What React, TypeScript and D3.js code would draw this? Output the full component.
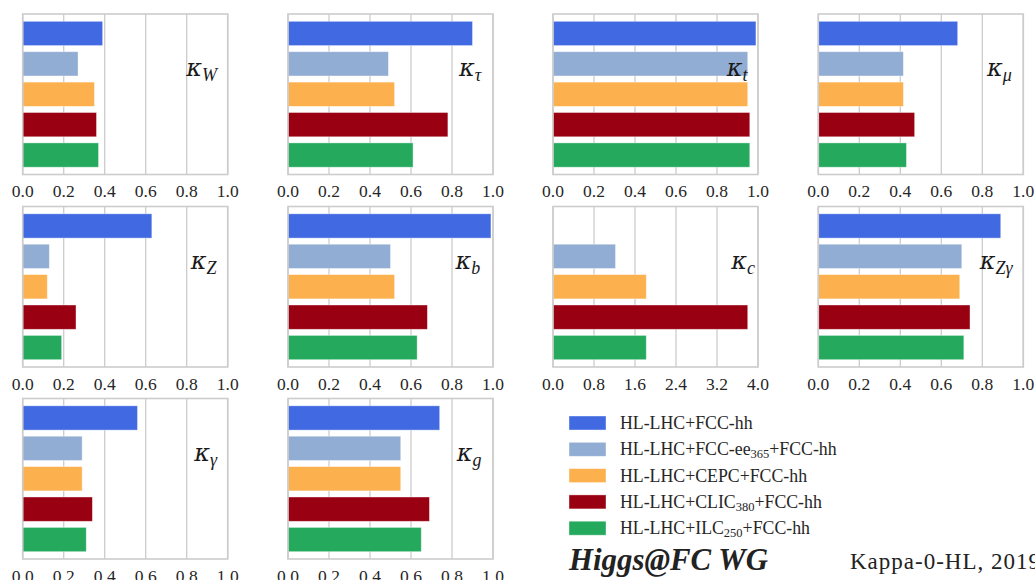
import React from "react";
import * as d3 from "d3";

// ---- data ----
const couplings = ["W", "τ", "t", "μ", "Z", "b", "c", "Zγ", "γ", "g"];
const scenarioNames = [
  ["HL-LHC+FCC-hh", "", ""],
  ["HL-LHC+FCC-ee", "365", "+FCC-hh"],
  ["HL-LHC+CEPC+FCC-hh", "", ""],
  ["HL-LHC+CLIC", "380", "+FCC-hh"],
  ["HL-LHC+ILC", "250", "+FCC-hh"],
];
const hlFcchh = [0.39, 0.9, 0.99, 0.68, 0.63, 0.99, null, 0.89, 0.56, 0.74];
const fccee365 = [0.27, 0.49, 0.95, 0.415, 0.13, 0.5, 1.22, 0.7, 0.29, 0.55];
const cepc = [0.35, 0.52, 0.95, 0.415, 0.12, 0.52, 1.82, 0.69, 0.29, 0.55];
const clic380 = [0.36, 0.78, 0.96, 0.47, 0.26, 0.68, 3.8, 0.74, 0.34, 0.69];
const ilc250 = [0.37, 0.61, 0.96, 0.43, 0.19, 0.63, 1.82, 0.71, 0.31, 0.65];
const xMax = [1, 1, 1, 1, 1, 1, 4, 1, 1, 1];
const ticksUnit = [0, 0.2, 0.4, 0.6, 0.8, 1.0];
const ticksC = [0, 0.8, 1.6, 2.4, 3.2, 4.0];

const seriesList = [hlFcchh, fccee365, cepc, clic380, ilc250];
const colors = ["#4169E1", "#92ADD3", "#FDB14E", "#990011", "#24A95D"];
const labelFrac = [0.873, 0.888, 0.898, 0.883, 0.883, 0.878, 0.927, 0.868, 0.893, 0.883];

// ---- layout ----
const W = 1035;
const H = 580;
const colX = [22.7, 288, 553, 818.3];
const rowY = [14, 206.5, 398.5];
const pw = 205;
const ph = 160.5;
const serif = "'Liberation Serif', 'Times New Roman', Times, serif";
const mathSerif = "'DejaVu Serif', serif";
const txt = "#262626";
const gridC = "#cccccc";

function Panel({ idx }: { idx: number }) {
  const col = idx % 4;
  const row = Math.floor(idx / 4);
  const x0 = colX[col];
  const y0 = rowY[row];
  const x = d3.scaleLinear().domain([0, xMax[idx]]).range([x0, x0 + pw]);
  const y = d3.scaleLinear().domain([-0.64, 4.64]).range([y0, y0 + ph]);
  const ticks = xMax[idx] === 4 ? ticksC : ticksUnit;
  const fmt = d3.format(".1f");
  const name = couplings[idx];
  return (
    <g>
      {ticks.map((t, i) => (
        <line key={"g" + i} x1={x(t)} x2={x(t)} y1={y0} y2={y0 + ph} stroke={gridC} strokeWidth={1.3} />
      ))}
      {seriesList.map((s, i) => {
        const v = s[idx];
        if (v == null) return null;
        return (
          <rect
            key={"b" + i}
            x={x(0)}
            y={y(i - 0.4)}
            width={x(v) - x(0)}
            height={y(i + 0.4) - y(i - 0.4)}
            fill={colors[i]}
            stroke="#ffffff"
            strokeOpacity={0.5}
            strokeWidth={0.8}
          />
        );
      })}
      <rect x={x0} y={y0} width={pw} height={ph} fill="none" stroke={gridC} strokeWidth={1.6} />
      {ticks.map((t, i) => (
        <text key={"t" + i} x={x(t)} y={y0 + ph + 22.5} textAnchor="middle" fontFamily={serif} fontSize={17.5} fill={txt}>
          {fmt(t)}
        </text>
      ))}
      <text x={x0 + labelFrac[idx] * pw} y={y0 + 62} textAnchor="middle" fontStyle="italic" fill="#1a1a1a">
        <tspan fontFamily={mathSerif} fontSize={24}>κ</tspan>
        <tspan fontFamily={serif} fontSize={18} dy={5}>{name}</tspan>
      </text>
    </g>
  );
}

export default function App() {
  return (
    <svg width={W} height={H} style={{ position: "absolute", left: 0, top: 0, background: "#fff" }}>
      <rect x={0} y={0} width={W} height={H} fill="#fff" />
      {couplings.map((_, i) => (
        <Panel key={i} idx={i} />
      ))}
      {scenarioNames.map((n, i) => {
        const cy = 423 + i * 26.3;
        return (
          <g key={"l" + i}>
            <rect x={569} y={cy - 7} width={37} height={14} fill={colors[i]} stroke="#fff" strokeOpacity={0.5} strokeWidth={0.8} />
            <text x={620} y={cy + 6} fontFamily={serif} fontSize={17.8} fill={txt}>
              {n[0]}
              {n[1] ? (
                <tspan fontSize={12.5} dy={3}>
                  {n[1]}
                </tspan>
              ) : null}
              {n[2] ? <tspan dy={n[1] ? -3 : 0}>{n[2]}</tspan> : null}
            </text>
          </g>
        );
      })}
      <text x={569} y={570} fontFamily={serif} fontSize={30.5} fontWeight="bold" fontStyle="italic" fill="#222" textLength={199} lengthAdjust="spacingAndGlyphs">
        Higgs@FC WG
      </text>
      <text x={850} y={569} fontFamily={serif} fontSize={23} fill="#222" textLength={190} lengthAdjust="spacing">
        Kappa-0-HL, 2019
      </text>
    </svg>
  );
}
